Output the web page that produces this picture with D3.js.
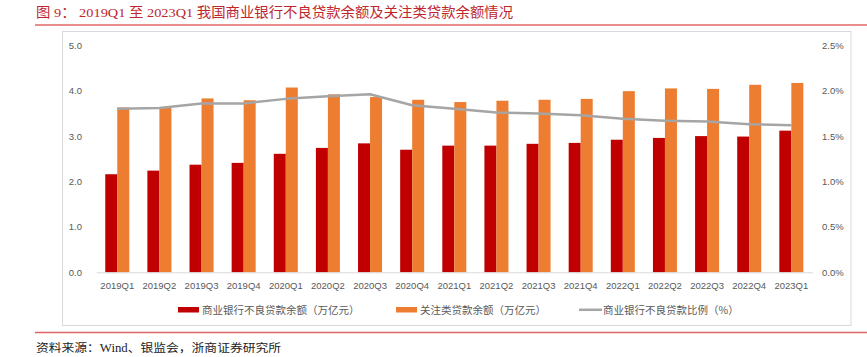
<!DOCTYPE html>
<html>
<head>
<meta charset="utf-8">
<script src="https://cdn.jsdelivr.net/npm/d3@7"></script>
<style>
html,body{margin:0;padding:0;background:#fff;}
svg{display:block;}
</style>
</head>
<body>
<script>
const categories = ["2019Q1","2019Q2","2019Q3","2019Q4","2020Q1","2020Q2","2020Q3","2020Q4","2021Q1","2021Q2","2021Q3","2021Q4","2022Q1","2022Q2","2022Q3","2022Q4","2023Q1"];
const nplBalance = [2.16,2.24,2.37,2.41,2.61,2.74,2.84,2.70,2.79,2.79,2.83,2.85,2.92,2.96,3.00,2.99,3.12];
const specialMention = [3.63,3.63,3.83,3.79,4.07,3.92,3.86,3.80,3.75,3.78,3.80,3.82,3.99,4.05,4.04,4.13,4.17];
const nplRatio = [0.0180,0.0181,0.0186,0.0186,0.0191,0.0194,0.0196,0.0184,0.0180,0.0176,0.0175,0.0173,0.0169,0.0167,0.0166,0.0163,0.0162];
const leftTicks = [0,1,2,3,4,5];
const rightTicks = [0,0.005,0.010,0.015,0.020,0.025];
const seriesNames = ["商业银行不良贷款余额（万亿元）","关注类贷款余额（万亿元）","商业银行不良贷款比例（%）"];
const titleText = "图 9：  2019Q1 至 2023Q1 我国商业银行不良贷款余额及关注类贷款余额情况";
const sourceText = "资料来源：Wind、银监会，浙商证券研究所";

const W = 867, H = 357;
const colors = {npl:"#c00000", sm:"#ed7d31", ratio:"#a5a5a5", title:"#c0272d", axis:"#595959"};
const svg = d3.select("body").append("svg").attr("width", W).attr("height", H);

// header / footer
svg.append("text").attr("x", 36).attr("y", 17)
  .attr("font-family", "'Liberation Serif','Noto Sans CJK SC',serif")
  .attr("font-size", 13.5).attr("fill", colors.title)
  .attr("textLength", 477).attr("lengthAdjust", "spacingAndGlyphs")
  .text(titleText);
svg.append("line").attr("x1", 35).attr("x2", 867).attr("y1", 25).attr("y2", 25)
  .attr("stroke", "#e06666").attr("stroke-width", 1.5);
svg.append("rect").attr("x", 62.5).attr("y", 31.5).attr("width", 788.5).attr("height", 294)
  .attr("fill", "none").attr("stroke", "#d9d9d9").attr("stroke-width", 1);
svg.append("line").attr("x1", 35).attr("x2", 867).attr("y1", 332.5).attr("y2", 332.5)
  .attr("stroke", "#e06666").attr("stroke-width", 1.5);
svg.append("text").attr("x", 36).attr("y", 352)
  .attr("font-family", "'Liberation Serif','Noto Sans CJK SC',serif")
  .attr("font-size", 11.5).attr("fill", "#222")
  .attr("textLength", 245).attr("lengthAdjust", "spacingAndGlyphs")
  .text(sourceText);

// scales
const x0 = d3.scaleBand().domain(categories).range([96.2, 812.4]).paddingInner(0.43).paddingOuter(0.215);
const x1 = d3.scaleBand().domain(["npl","sm"]).range([0, x0.bandwidth()]);
const yL = d3.scaleLinear().domain([0,5]).range([272.3, 45.3]);
const yR = d3.scaleLinear().domain([0,0.025]).range([272.3, 45.3]);

// bars
const g = svg.append("g");
const groups = g.selectAll("g.cat").data(categories).join("g").attr("class","cat")
  .attr("transform", d => `translate(${x0(d)},0)`);
groups.append("rect").attr("x", x1("npl")).attr("width", x1.bandwidth())
  .attr("y", (d,i) => yL(nplBalance[i])).attr("height", (d,i) => yL(0) - yL(nplBalance[i]))
  .attr("fill", colors.npl);
groups.append("rect").attr("x", x1("sm")).attr("width", x1.bandwidth())
  .attr("y", (d,i) => yL(specialMention[i])).attr("height", (d,i) => yL(0) - yL(specialMention[i]))
  .attr("fill", colors.sm);

// x axis
const xAxis = d3.axisBottom(x0).tickSize(0).tickPadding(10);
const gx = svg.append("g").attr("transform", `translate(0,${yL(0)})`).call(xAxis);
gx.select(".domain").attr("stroke", "#d9d9d9").attr("stroke-width", 1);
gx.selectAll("text").attr("font-family","'Liberation Sans',Arial,sans-serif").attr("font-size", 9.5).attr("fill", colors.axis);

// left axis
const gl = svg.append("g").attr("transform", `translate(84,0)`)
  .call(d3.axisLeft(yL).tickValues(leftTicks).tickFormat(d3.format(".1f")).tickSize(0).tickPadding(2));
gl.select(".domain").remove();
gl.selectAll("text").attr("font-family","'Liberation Sans',Arial,sans-serif").attr("font-size", 9.5).attr("fill", colors.axis);

// right axis
const gr = svg.append("g").attr("transform", `translate(820,0)`)
  .call(d3.axisRight(yR).tickValues(rightTicks).tickFormat(d3.format(".1%")).tickSize(0).tickPadding(2));
gr.select(".domain").remove();
gr.selectAll("text").attr("font-family","'Liberation Sans',Arial,sans-serif").attr("font-size", 9.5).attr("fill", colors.axis);

// line
const line = d3.line().x((d,i) => x0(categories[i]) + x0.bandwidth()/2).y(d => yR(d));
svg.append("path").datum(nplRatio).attr("d", line).attr("fill","none")
  .attr("stroke", colors.ratio).attr("stroke-width", 2.5).attr("stroke-linejoin","round");

// legend
const lg = svg.append("g").attr("font-family","'Noto Sans CJK SC',sans-serif").attr("font-size", 10.5).attr("fill", colors.axis);
const legendItems = [
  {x:178, name:seriesNames[0], type:"rect", color:colors.npl},
  {x:396, name:seriesNames[1], type:"rect", color:colors.sm},
  {x:579, name:seriesNames[2], type:"line", color:colors.ratio}
];
legendItems.forEach(it => {
  if (it.type === "rect") {
    lg.append("rect").attr("x", it.x).attr("y", 307).attr("width", 21).attr("height", 5.5).attr("fill", it.color);
  } else {
    lg.append("line").attr("x1", it.x).attr("x2", it.x+23).attr("y1", 309.8).attr("y2", 309.8)
      .attr("stroke", it.color).attr("stroke-width", 2.5);
  }
  lg.append("text").attr("x", it.x + 24).attr("y", 313.5).text(it.name);
});
</script>
</body>
</html>
